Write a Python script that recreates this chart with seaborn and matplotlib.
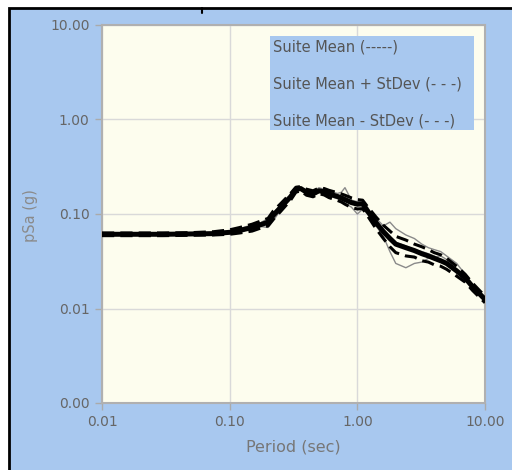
import matplotlib
matplotlib.use("Agg")
import matplotlib.pyplot as plt
import matplotlib.ticker as mticker
from matplotlib.patches import Rectangle
from matplotlib.lines import Line2D
import seaborn as sns
import pandas as pd

# Spectral periods (sec)
periods = [0.01, 0.02, 0.03, 0.05, 0.075, 0.1, 0.12, 0.15, 0.17, 0.2, 0.22, 0.25,
           0.3, 0.33, 0.36, 0.4, 0.45, 0.5, 0.55, 0.6, 0.7, 0.75, 0.8, 0.9, 1.0,
           1.1, 1.2, 1.4, 1.6, 1.8, 2.0, 2.4, 2.8, 3.2, 3.6, 4.0, 4.5, 5.0, 6.0,
           7.0, 8.0, 10.0]

# Suite statistics (pSa, g)
suite_mean = [0.061, 0.061, 0.061, 0.0615, 0.062, 0.064, 0.067, 0.072, 0.076, 0.082,
              0.097, 0.117, 0.152, 0.182, 0.186, 0.17, 0.163, 0.176, 0.172, 0.163,
              0.153, 0.148, 0.142, 0.132, 0.127, 0.128, 0.108, 0.081, 0.065, 0.055,
              0.048, 0.044, 0.041, 0.038, 0.036, 0.034, 0.032, 0.030, 0.025, 0.021,
              0.017, 0.0125]
suite_plus = [0.063, 0.063, 0.063, 0.0635, 0.065, 0.068, 0.072, 0.078, 0.083, 0.09,
              0.108, 0.128, 0.165, 0.192, 0.195, 0.183, 0.176, 0.188, 0.186, 0.178,
              0.168, 0.163, 0.158, 0.148, 0.142, 0.14, 0.12, 0.093, 0.076, 0.066,
              0.058, 0.053, 0.048, 0.045, 0.042, 0.039, 0.037, 0.034, 0.028, 0.023,
              0.0185, 0.0135]
suite_minus = [0.059, 0.059, 0.059, 0.0595, 0.06, 0.061, 0.063, 0.066, 0.07, 0.075,
               0.088, 0.106, 0.14, 0.17, 0.176, 0.158, 0.152, 0.164, 0.159, 0.149,
               0.139, 0.134, 0.127, 0.117, 0.113, 0.114, 0.096, 0.07, 0.055, 0.045,
               0.039, 0.036, 0.035, 0.032, 0.031, 0.029, 0.028, 0.026, 0.022, 0.019,
               0.0155, 0.0115]

# Individual record spectra (pSa, g)
record_a = [0.062, 0.062, 0.062, 0.0625, 0.064, 0.066, 0.07, 0.077, 0.08, 0.085,
            0.1, 0.125, 0.16, 0.19, 0.19, 0.178, 0.17, 0.185, 0.18, 0.17, 0.16,
            0.154, 0.15, 0.138, 0.13, 0.135, 0.112, 0.09, 0.075, 0.082, 0.07, 0.06,
            0.055, 0.048, 0.044, 0.042, 0.04, 0.036, 0.03, 0.023, 0.018, 0.0128]
record_b = [0.06, 0.06, 0.06, 0.0605, 0.061, 0.062, 0.065, 0.07, 0.074, 0.072,
            0.085, 0.11, 0.148, 0.175, 0.18, 0.165, 0.158, 0.17, 0.165, 0.155,
            0.145, 0.14, 0.13, 0.118, 0.1, 0.112, 0.1, 0.075, 0.058, 0.04, 0.03,
            0.027, 0.03, 0.031, 0.034, 0.035, 0.036, 0.033, 0.026, 0.02, 0.016, 0.0118]
record_c = [0.061, 0.061, 0.061, 0.062, 0.063, 0.065, 0.069, 0.074, 0.079, 0.09,
            0.105, 0.12, 0.155, 0.178, 0.182, 0.172, 0.17, 0.19, 0.182, 0.175,
            0.165, 0.17, 0.19, 0.14, 0.135, 0.14, 0.118, 0.085, 0.068, 0.058, 0.05,
            0.046, 0.042, 0.04, 0.038, 0.036, 0.033, 0.031, 0.026, 0.021, 0.017, 0.0122]

legend_labels = ["Suite Mean (-----)", "Suite Mean + StDev (- - -)",
                 "Suite Mean - StDev (- - -)"]
x_ticks = [0.01, 0.1, 1.0, 10.0]
y_ticks = [0.001, 0.01, 0.1, 1.0, 10.0]

BLUE = "#a8c8ef"
PLOT_BG = "#fdfdee"
TXT = "#666666"

sns.set_theme(style="white")
plt.rcParams["font.family"] = ["DejaVu Sans"]

fig = plt.figure(figsize=(5.12, 4.70), dpi=100)
fig.patch.set_facecolor("white")
# outer panel with black frame on left/top
fig.add_artist(Rectangle((9 / 512, -0.01), 1.0, 1 - 8 / 470 + 0.01,
                         transform=fig.transFigure, facecolor=BLUE,
                         edgecolor="black", linewidth=2.0, zorder=0))
fig.add_artist(Line2D([202 / 512, 202 / 512], [1 - 8 / 470, 1 - 13 / 470],
                      transform=fig.transFigure, color="black", lw=1.5))

ax = fig.add_axes([102 / 512, 1 - 403 / 470, (485 - 102) / 512, (403 - 25) / 470])
ax.set_facecolor(PLOT_BG)

df = pd.DataFrame({"T": periods, "mean": suite_mean, "plus": suite_plus,
                   "minus": suite_minus, "a": record_a, "b": record_b,
                   "c": record_c})

for col in ["a", "b", "c"]:
    sns.lineplot(data=df, x="T", y=col, ax=ax, color="#8a8a8a", lw=1.0,
                 zorder=3)
for col in ["plus", "minus"]:
    sns.lineplot(data=df, x="T", y=col, ax=ax, color="black", lw=2.2,
                 linestyle=(0, (4, 2)), zorder=4)
sns.lineplot(data=df, x="T", y="mean", ax=ax, color="black", lw=3.6, zorder=5)

ax.set_xscale("log")
ax.set_yscale("log")
ax.set_xlim(0.01, 10)
ax.set_ylim(0.001, 10)
ax.set_xticks(x_ticks)
ax.set_yticks(y_ticks)
ax.xaxis.set_major_formatter(mticker.FuncFormatter(lambda v, p: f"{v:.2f}"))
ax.yaxis.set_major_formatter(mticker.FuncFormatter(lambda v, p: f"{v:.2f}"))
ax.xaxis.set_minor_locator(mticker.NullLocator())
ax.yaxis.set_minor_locator(mticker.NullLocator())
ax.grid(True, which="major", color="#d9d9d9", lw=1.0)
ax.tick_params(axis="both", which="major", length=5, width=1, color="#aaaaaa",
               labelcolor=TXT, labelsize=10, direction="out", pad=4,
               left=True, bottom=True)
for s in ax.spines.values():
    s.set_color("#b0b0b0")
    s.set_linewidth(1.5)

ax.set_xlabel("Period (sec)", color="#777777", fontsize=11.5, labelpad=7)
ax.set_ylabel("")
fig.text(30 / 512, 1 - 216 / 470, "pSa (g)", rotation=90, color="#8a8a8a",
         fontsize=10.5, ha="center", va="center")

# legend box
ax.add_patch(Rectangle((270 / 512, 1 - 130 / 470), (474 - 270) / 512,
                       (130 - 36) / 470, transform=fig.transFigure,
                       facecolor=BLUE, edgecolor="none", zorder=6))
for i, lab in enumerate(legend_labels):
    fig.text(273 / 512, 1 - (47 + i * 37) / 470, lab, color="#555555",
             fontsize=10.5, ha="left", va="center", zorder=7)

fig.savefig("out.png", dpi=100)
